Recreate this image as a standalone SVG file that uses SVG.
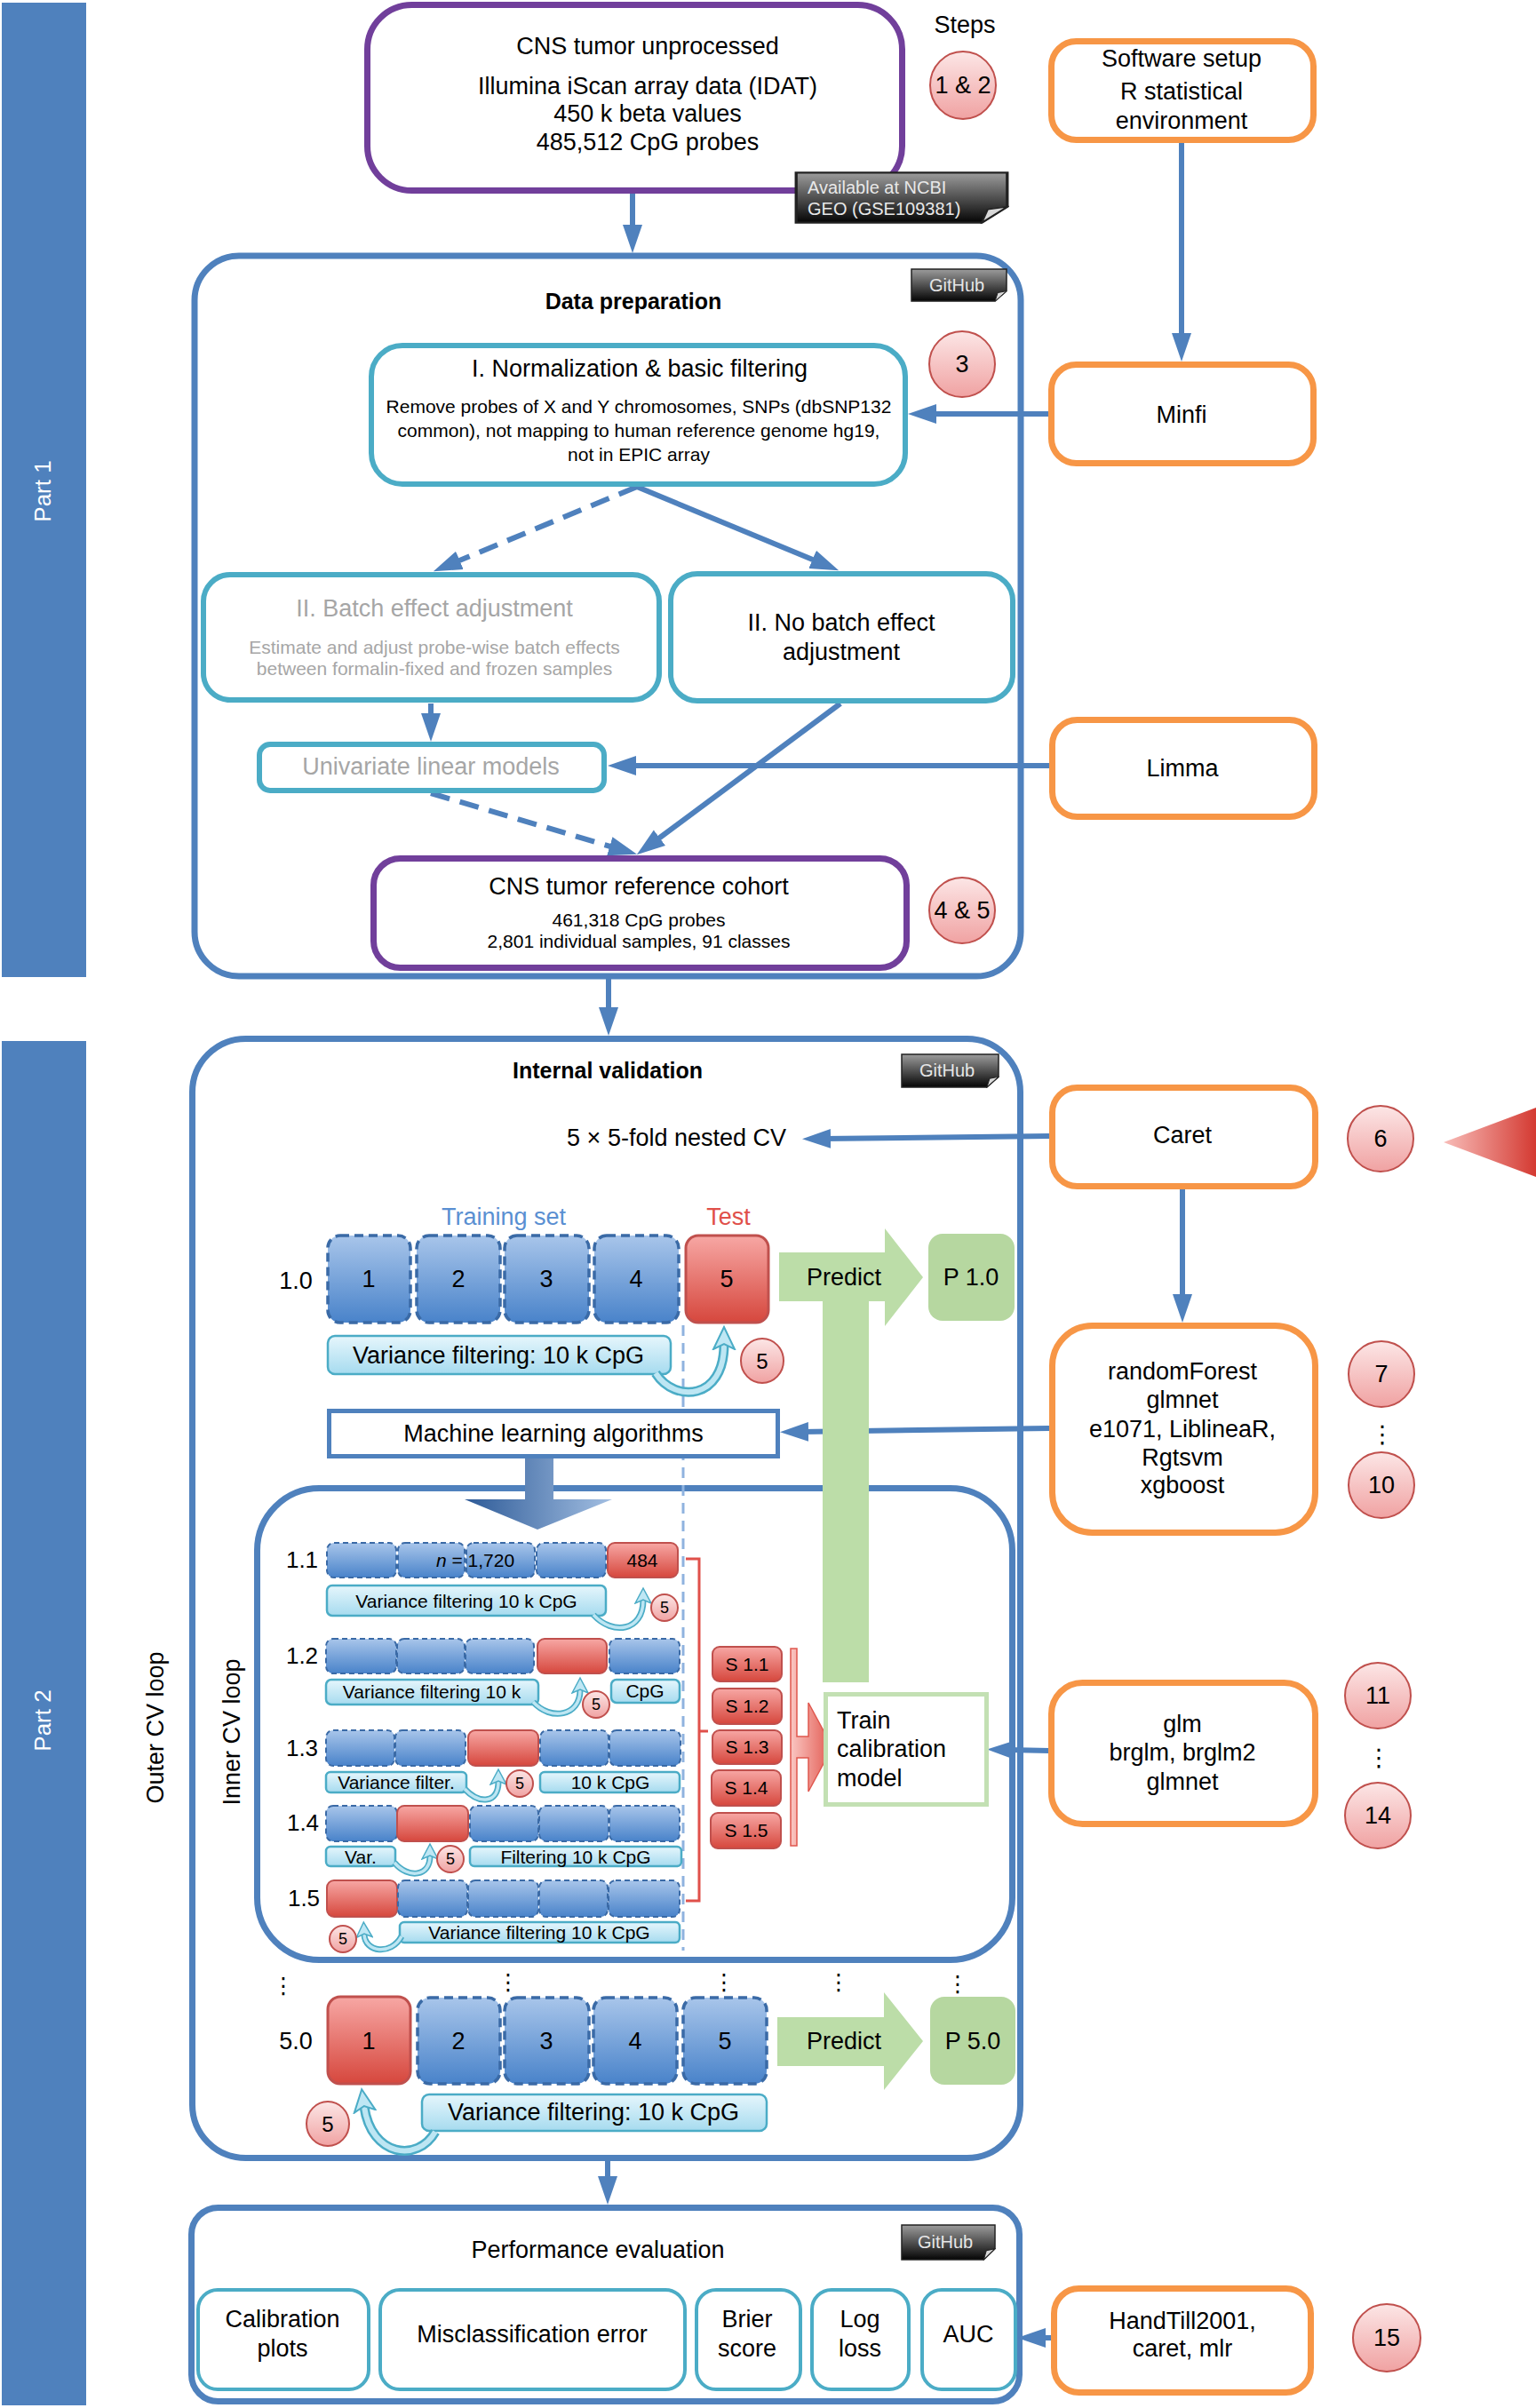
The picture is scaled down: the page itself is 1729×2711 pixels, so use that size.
<svg xmlns="http://www.w3.org/2000/svg" width="1729" height="2711" viewBox="0 0 1729 2711">
<defs>
<style>
text{font-family:"Liberation Sans",Arial,Helvetica,sans-serif;fill:#000}
.m{text-anchor:middle}
.e{text-anchor:end}
.b{font-weight:bold}
.g{fill:#A6A6A6}
.w{fill:#fff}
.s27{font-size:27px}
.s26{font-size:26px}
.s25{font-size:25px}
.s21{font-size:21px}
.s20{font-size:20px}
.s18{font-size:18px}
.orange{fill:#fff;stroke:#F79646;stroke-width:7}
.teal{fill:#fff;stroke:#4BACC6;stroke-width:6}
.cont{fill:#fff;stroke:#4F81BD;stroke-width:7}
.purple{fill:#fff;stroke:#713F9B;stroke-width:7}
.step{fill:url(#gPink);stroke:#C0504D;stroke-width:2}
.fb{fill:url(#gBlue);stroke:#3A6AA6;stroke-width:3.5;stroke-dasharray:10 6}
.fr{fill:url(#gRed);stroke:#C0504D;stroke-width:3}
.sb{fill:url(#gBlue);stroke:#3A6AA6;stroke-width:2;stroke-dasharray:6 4}
.sr{fill:url(#gRed);stroke:#C0504D;stroke-width:2}
.vb{fill:url(#gCyan);stroke:#4BACC6;stroke-width:2.5}
.green{fill:#BCDDA8}
.pbox{fill:#B6D7A0}
.ln{fill:none;stroke:#4F81BD;stroke-width:6}
.dash{stroke-dasharray:22 12}
.cvo{fill:none;stroke:#4BACC6}
.cvi{fill:none;stroke:#BDE6F3}
</style>
<linearGradient id="gPink" x1="0" y1="0" x2="0" y2="1"><stop offset="0" stop-color="#FCE6E6"/><stop offset="1" stop-color="#F0A2A2"/></linearGradient>
<linearGradient id="gBlue" x1="0" y1="0" x2="0" y2="1"><stop offset="0" stop-color="#A8C5EA"/><stop offset="1" stop-color="#4983CA"/></linearGradient>
<linearGradient id="gRed" x1="0" y1="0" x2="0" y2="1"><stop offset="0" stop-color="#F7A7A4"/><stop offset="1" stop-color="#D6473D"/></linearGradient>
<linearGradient id="gCyan" x1="0" y1="0" x2="0" y2="1"><stop offset="0" stop-color="#E6F6FC"/><stop offset="1" stop-color="#A6DBEF"/></linearGradient>
<linearGradient id="gGh" x1="0" y1="0" x2="0" y2="1"><stop offset="0" stop-color="#9C9C9C"/><stop offset="1" stop-color="#050505"/></linearGradient>
<linearGradient id="gMl" x1="0" y1="0" x2="1" y2="0"><stop offset="0" stop-color="#2D5A97"/><stop offset="1" stop-color="#A3BFE2"/></linearGradient>
<linearGradient id="gTri" x1="0" y1="0" x2="1" y2="0"><stop offset="0" stop-color="#F8BDB9"/><stop offset="1" stop-color="#D43A32"/></linearGradient>
<linearGradient id="gComb" x1="0" y1="0" x2="1" y2="0"><stop offset="0" stop-color="#FAC6C2"/><stop offset="1" stop-color="#E1574E"/></linearGradient>
<symbol id="badge" viewBox="0 0 110 40" preserveAspectRatio="none">
<path d="M1,1 H109 V27 L96,39 H1 Z" fill="url(#gGh)" stroke="#222" stroke-width="1.5"/>
<path d="M109,27 L96,39 L99,29 Z" fill="#D8D8D8" stroke="#222" stroke-width="1"/>
</symbol>
<marker id="ah" markerUnits="userSpaceOnUse" markerWidth="34" markerHeight="24" refX="8" refY="12" orient="auto"><path d="M0,1 L32,12 L0,23 Z" fill="#4F81BD"/></marker>
<marker id="cv" markerUnits="userSpaceOnUse" markerWidth="28" markerHeight="28" refX="6" refY="14" orient="auto"><path d="M1,2 L26,14 L1,26 L7,14 Z" fill="#BFE7F4" stroke="#4BACC6" stroke-width="2"/></marker>
<marker id="cvs" markerUnits="userSpaceOnUse" markerWidth="20" markerHeight="20" refX="4" refY="10" orient="auto"><path d="M1,1 L18,10 L1,19 L5,10 Z" fill="#BFE7F4" stroke="#4BACC6" stroke-width="1.5"/></marker>
</defs>
<rect width="1729" height="2711" fill="#fff"/>

<g id="part-bars">
<rect x="2" y="3" width="95" height="1097" fill="#4F81BD"/>
<text class="w s26 m" transform="rotate(-90 48 553)" x="48" y="562">Part 1</text>
<rect x="2" y="1172" width="95" height="1536" fill="#4F81BD"/>
<text class="w s26 m" transform="rotate(-90 48 1937)" x="48" y="1946">Part 2</text>
</g>

<!-- containers -->
<g id="data-preparation">
<rect class="cont" x="219" y="288" width="930" height="811" rx="50"/>
<text class="s25 m b" x="713" y="348">Data preparation</text>
<use href="#badge" x="1025" y="302" width="109" height="38"/>
<text class="s20 m" x="1077" y="328" fill="#E6E6E6" style="fill:#E6E6E6">GitHub</text>
</g>
<g id="internal-validation">
<rect class="cont" x="216.5" y="1169.5" width="932" height="1260" rx="60"/>
<text class="s25 m b" x="684" y="1214">Internal validation</text>
<use href="#badge" x="1014" y="1186" width="111" height="39"/>
<text class="s20 m" x="1066" y="1212" style="fill:#E6E6E6">GitHub</text>
<text class="s27 m" transform="rotate(-90 175 1945)" x="175" y="1954">Outer CV loop</text>
</g>
<g id="inner-cv-loop">
<rect x="289.5" y="1675.5" width="850" height="531" rx="70" fill="none" stroke="#4F81BD" stroke-width="7"/>
<text class="s27 m" transform="rotate(-90 261 1950)" x="261" y="1959">Inner CV loop</text>
</g>
<g id="performance-evaluation">
<rect class="cont" x="215.5" y="2485.5" width="932" height="218" rx="30"/>
<text class="s27 m" x="673" y="2542">Performance evaluation</text>
<use href="#badge" x="1014" y="2504" width="107" height="41"/>
<text class="s20 m" x="1064" y="2531" style="fill:#E6E6E6">GitHub</text>
</g>

<line x1="769" y1="1492" x2="769" y2="2196" stroke="#8FB3DF" stroke-width="3" stroke-dasharray="12 8"/>

<!-- connectors -->
<g id="connectors">
<path class="ln" d="M712,218 V261" marker-end="url(#ah)"/>
<path class="ln" d="M1330,161 V383" marker-end="url(#ah)"/>
<path class="ln" d="M1180,466 H1046" marker-end="url(#ah)"/>
<path class="ln dash" d="M717,548 L510,634" marker-end="url(#ah)"/>
<path class="ln" d="M717,548 L922,633" marker-end="url(#ah)"/>
<path class="ln" d="M485,792 V811" marker-end="url(#ah)"/>
<path class="ln" d="M1181,862 H708" marker-end="url(#ah)"/>
<path class="ln dash" d="M485,893 L694,955" marker-end="url(#ah)"/>
<path class="ln" d="M946,792 L736,948" marker-end="url(#ah)"/>
<path class="ln" d="M685,1102 V1142" marker-end="url(#ah)"/>
<path class="ln" d="M1181,1279 L927,1282" marker-end="url(#ah)"/>
<path class="ln" d="M1331,1339 V1465" marker-end="url(#ah)"/>
<path class="ln" d="M1181,1608 L902,1612" marker-end="url(#ah)"/>
<path class="ln" d="M1181,1971 L1135,1970" marker-end="url(#ah)"/>
<path class="ln" d="M684,2432 V2458" marker-end="url(#ah)"/>
<path class="ln" d="M1183,2632 H1169" marker-end="url(#ah)"/>
</g>

<!-- Part 1 nodes -->
<g id="raw-data">
<rect x="413.5" y="5.5" width="602" height="209" rx="50" fill="#fff" stroke="#713F9B" stroke-width="7"/>
<text class="s27 m" x="729" y="61">CNS tumor unprocessed</text>
<text class="s27 m" x="729" y="106">Illumina iScan array data (IDAT)</text>
<text class="s27 m" x="729" y="137">450 k beta values</text>
<text class="s27 m" x="729" y="169">485,512 CpG probes</text>
</g>
<g id="ncbi-note">
<use href="#badge" x="894" y="193" width="242" height="59"/>
<text class="s20" x="909" y="218" style="fill:#E8E8E8">Available at NCBI</text>
<text class="s20" x="909" y="242" style="fill:#E8E8E8">GEO (GSE109381)</text>
</g>
<g id="steps-label"><text class="s27 m" x="1086" y="37">Steps</text></g>
<g id="step-1-2"><ellipse class="step" cx="1084" cy="96" rx="37" ry="38"/><text class="s27 m" x="1084" y="105">1 &amp; 2</text></g>
<g id="software-setup">
<rect class="orange" x="1183.5" y="46.5" width="295" height="111" rx="28"/>
<text class="s27 m" x="1330" y="75">Software setup</text>
<text class="s27 m" x="1330" y="112">R statistical</text>
<text class="s27 m" x="1330" y="145">environment</text>
</g>
<g id="minfi"><rect class="orange" x="1183.5" y="410.5" width="295" height="111" rx="28"/><text class="s27 m" x="1330" y="476">Minfi</text></g>
<g id="normalization">
<rect class="teal" x="418" y="389" width="601" height="156" rx="35"/>
<text class="s27 m" x="720" y="424">I. Normalization &amp; basic filtering</text>
<text class="s21 m" x="719" y="465">Remove probes of X and Y chromosomes, SNPs (dbSNP132</text>
<text class="s21 m" x="719" y="492">common), not mapping to human reference genome hg19,</text>
<text class="s21 m" x="719" y="519">not in EPIC array</text>
</g>
<g id="step-3"><ellipse class="step" cx="1083" cy="410" rx="37" ry="37"/><text class="s27 m" x="1083" y="419">3</text></g>
<g id="batch-adjustment">
<rect class="teal" x="229" y="647" width="513" height="141" rx="30"/>
<text class="s27 m g" x="489" y="694">II. Batch effect adjustment</text>
<text class="s21 m g" x="489" y="736">Estimate and adjust probe-wise batch effects</text>
<text class="s21 m g" x="489" y="760">between formalin-fixed and frozen samples</text>
</g>
<g id="no-batch-adjustment">
<rect class="teal" x="755" y="646" width="385" height="143" rx="30"/>
<text class="s27 m" x="947" y="710">II. No batch effect</text>
<text class="s27 m" x="947" y="743">adjustment</text>
</g>
<g id="univariate">
<rect class="teal" x="292" y="838" width="388" height="52" rx="12"/>
<text class="s27 m g" x="485" y="872">Univariate linear models</text>
</g>
<g id="limma"><rect class="orange" x="1184.5" y="810.5" width="295" height="109" rx="28"/><text class="s27 m" x="1331" y="874">Limma</text></g>
<g id="reference-cohort">
<rect class="purple" x="420.5" y="966.5" width="600" height="123" rx="30"/>
<text class="s27 m" x="719" y="1007">CNS tumor reference cohort</text>
<text class="s21 m" x="719" y="1043">461,318 CpG probes</text>
<text class="s21 m" x="719" y="1067">2,801 individual samples, 91 classes</text>
</g>
<g id="step-4-5"><ellipse class="step" cx="1083" cy="1025" rx="37" ry="37"/><text class="s27 m" x="1083" y="1034">4 &amp; 5</text></g>

<!-- Part 2 -->
<g id="nested-cv-label"><text class="s27 e" x="885" y="1290">5 × 5-fold nested CV</text></g>
<g id="caret"><rect class="orange" x="1184.5" y="1224.5" width="296" height="111" rx="28"/><text class="s27 m" x="1331" y="1287">Caret</text></g>
<g id="step-6"><ellipse class="step" cx="1554" cy="1282" rx="37" ry="37"/><text class="s27 m" x="1554" y="1291">6</text></g>
<g id="red-pointer"><polygon points="1625,1286 1729,1247 1729,1325" fill="url(#gTri)"/></g>

<g id="predict-train-arrow">
<polygon class="green" points="877,1410 996,1410 996,1383 1039,1438 996,1493 996,1465 978,1465 978,1894 926,1894 926,1465 877,1465"/>
<text class="s27 m" x="950" y="1447">Predict</text>
</g>
<g id="outer-fold-1">
<text class="s27 m" x="333" y="1451">1.0</text>
<text class="s27 m" x="567" y="1379" style="fill:#5A8FD2">Training set</text>
<text class="s27 m" x="820" y="1379" style="fill:#E0504A">Test</text>
<rect class="fb" x="369" y="1391" width="93" height="98" rx="14"/>
<rect class="fb" x="469" y="1391" width="94" height="98" rx="14"/>
<rect class="fb" x="568" y="1391" width="95" height="98" rx="14"/>
<rect class="fb" x="669" y="1391" width="95" height="98" rx="14"/>
<rect class="fr" x="772" y="1391" width="93" height="98" rx="14"/>
<text class="s27 m" x="415" y="1449">1</text>
<text class="s27 m" x="516" y="1449">2</text>
<text class="s27 m" x="615" y="1449">3</text>
<text class="s27 m" x="716" y="1449">4</text>
<text class="s27 m" x="818" y="1449">5</text>
<rect class="vb" x="369" y="1504" width="386" height="43" rx="8"/>
<text class="s27 m" x="561" y="1535">Variance filtering: 10 k CpG</text>
<path class="cvo" stroke-width="11" d="M738,1546 C760,1580 815,1576 815,1514"/>
<path class="cvi" stroke-width="6" d="M738,1546 C760,1580 815,1576 815,1514" marker-end="url(#cv)"/>
<ellipse class="step" cx="858" cy="1532" rx="24" ry="25"/><text class="m" style="font-size:24px" x="858" y="1541">5</text>
</g>
<g id="p-1-0"><rect class="pbox" x="1045" y="1389" width="97" height="98" rx="16"/><text class="s27 m" x="1093" y="1447">P 1.0</text></g>

<g id="randomforest">
<rect class="orange" x="1184.5" y="1492.5" width="296" height="233" rx="45"/>
<text class="s27 m" x="1331" y="1553">randomForest</text>
<text class="s27 m" x="1331" y="1585">glmnet</text>
<text class="s27 m" x="1331" y="1618">e1071, LiblineaR,</text>
<text class="s27 m" x="1331" y="1650">Rgtsvm</text>
<text class="s27 m" x="1331" y="1681">xgboost</text>
</g>
<g id="step-7-10">
<ellipse class="step" cx="1555" cy="1547" rx="37" ry="37"/><text class="s27 m" x="1555" y="1556">7</text>
<text class="s27 m" x="1556" y="1624" style="font-family:'DejaVu Sans',sans-serif">⋮</text>
<ellipse class="step" cx="1555" cy="1672" rx="37" ry="37"/><text class="s27 m" x="1555" y="1681">10</text>
</g>
<g id="ml-algorithms">
<rect x="370.5" y="1588.5" width="505" height="51" fill="#fff" stroke="#4F81BD" stroke-width="5"/>
<text class="s27 m" x="623" y="1623">Machine learning algorithms</text>
</g>
<g id="ml-down-arrow"><polygon points="591,1642 623,1642 623,1688 689,1688 605,1722 523,1688 591,1688" fill="url(#gMl)"/></g>

<g id="inner-fold-1-1">
<text class="s26 m" x="340" y="1765">1.1</text>
<rect class="sb" x="368" y="1737" width="78" height="39" rx="8"/>
<rect class="sb" x="448" y="1737" width="75" height="39" rx="8"/>
<rect class="sb" x="525" y="1737" width="77" height="39" rx="8"/>
<rect class="sb" x="604" y="1737" width="78" height="39" rx="8"/>
<rect class="sr" x="684" y="1737" width="79" height="39" rx="8"/>
<text class="s21 m" x="535" y="1764"><tspan font-style="italic">n</tspan> = 1,720</text>
<text class="s21 m" x="723" y="1764">484</text>
<rect class="vb" x="368" y="1785" width="314" height="34" rx="6"/>
<text class="s21 m" x="525" y="1810">Variance filtering 10 k CpG</text>
<path class="cvo" stroke-width="7" d="M668,1818 C690,1842 724,1836 724,1802"/>
<path class="cvi" stroke-width="3.5" d="M668,1818 C690,1842 724,1836 724,1802" marker-end="url(#cvs)"/>
<circle class="step" cx="748" cy="1810" r="15"/><text class="s18 m" x="748" y="1816">5</text>
</g>
<g id="inner-fold-1-2">
<text class="s26 m" x="340" y="1873">1.2</text>
<rect class="sb" x="367" y="1845" width="79" height="39" rx="8"/>
<rect class="sb" x="447" y="1845" width="76" height="39" rx="8"/>
<rect class="sb" x="524" y="1845" width="77" height="39" rx="8"/>
<rect class="sr" x="605" y="1845" width="78" height="39" rx="8"/>
<rect class="sb" x="686" y="1845" width="79" height="39" rx="8"/>
<rect class="vb" x="367" y="1891" width="239" height="28" rx="6"/>
<text class="s21 m" x="486" y="1912">Variance filtering 10 k</text>
<rect class="vb" x="688" y="1891" width="77" height="26" rx="6"/>
<text class="s21 m" x="726" y="1911">CpG</text>
<path class="cvo" stroke-width="7" d="M600,1916 C620,1938 653,1932 653,1903"/>
<path class="cvi" stroke-width="3.5" d="M600,1916 C620,1938 653,1932 653,1903" marker-end="url(#cvs)"/>
<circle class="step" cx="671" cy="1919" r="15"/><text class="s18 m" x="671" y="1925">5</text>
</g>
<g id="inner-fold-1-3">
<text class="s26 m" x="340" y="1977">1.3</text>
<rect class="sb" x="367" y="1948" width="77" height="40" rx="8"/>
<rect class="sb" x="445" y="1948" width="79" height="40" rx="8"/>
<rect class="sr" x="527" y="1948" width="79" height="40" rx="8"/>
<rect class="sb" x="608" y="1948" width="77" height="40" rx="8"/>
<rect class="sb" x="686" y="1948" width="80" height="40" rx="8"/>
<rect class="vb" x="367" y="1995" width="158" height="23" rx="5"/>
<text class="s21 m" x="446" y="2014">Variance filter.</text>
<rect class="vb" x="608" y="1995" width="157" height="23" rx="5"/>
<text class="s21 m" x="687" y="2014">10 k CpG</text>
<path class="cvo" stroke-width="7" d="M523,2014 C540,2032 561,2030 561,2006"/>
<path class="cvi" stroke-width="3.5" d="M523,2014 C540,2032 561,2030 561,2006" marker-end="url(#cvs)"/>
<circle class="step" cx="585" cy="2008" r="15"/><text class="s18 m" x="585" y="2014">5</text>
</g>
<g id="inner-fold-1-4">
<text class="s26 m" x="341" y="2061">1.4</text>
<rect class="sb" x="367" y="2033" width="80" height="40" rx="8"/>
<rect class="sr" x="447" y="2033" width="80" height="40" rx="8"/>
<rect class="sb" x="529" y="2033" width="77" height="40" rx="8"/>
<rect class="sb" x="607" y="2033" width="78" height="40" rx="8"/>
<rect class="sb" x="686" y="2033" width="79" height="40" rx="8"/>
<rect class="vb" x="367" y="2079" width="78" height="22" rx="5"/>
<text class="s21 m" x="406" y="2098">Var.</text>
<rect class="vb" x="529" y="2079" width="238" height="22" rx="5"/>
<text class="s21 m" x="648" y="2098">Filtering 10 k CpG</text>
<path class="cvo" stroke-width="7" d="M444,2097 C460,2116 484,2112 484,2090"/>
<path class="cvi" stroke-width="3.5" d="M444,2097 C460,2116 484,2112 484,2090" marker-end="url(#cvs)"/>
<circle class="step" cx="507" cy="2093" r="15"/><text class="s18 m" x="507" y="2099">5</text>
</g>
<g id="inner-fold-1-5">
<text class="s26 m" x="342" y="2146">1.5</text>
<rect class="sr" x="368" y="2117" width="79" height="41" rx="8"/>
<rect class="sb" x="448" y="2117" width="78" height="41" rx="8"/>
<rect class="sb" x="527" y="2117" width="79" height="41" rx="8"/>
<rect class="sb" x="607" y="2117" width="77" height="41" rx="8"/>
<rect class="sb" x="685" y="2117" width="80" height="41" rx="8"/>
<rect class="vb" x="450" y="2164" width="315" height="23" rx="5"/>
<text class="s21 m" x="607" y="2183">Variance filtering 10 k CpG</text>
<path class="cvo" stroke-width="7" d="M452,2180 C440,2202 411,2198 410,2178"/>
<path class="cvi" stroke-width="3.5" d="M452,2180 C440,2202 411,2198 410,2178" marker-end="url(#cvs)"/>
<circle class="step" cx="386" cy="2183" r="15"/><text class="s18 m" x="386" y="2189">5</text>
</g>

<g id="inner-bracket">
<path d="M772,1755 H787 V2140 H772 M787,1949 H797" fill="none" stroke="#E0504A" stroke-width="3"/>
</g>
<g id="inner-scores">
<rect class="sr" x="802" y="1854" width="78" height="39" rx="8"/><text class="s21 m" x="841" y="1881">S 1.1</text>
<rect class="sr" x="802" y="1901" width="78" height="40" rx="8"/><text class="s21 m" x="841" y="1928">S 1.2</text>
<rect class="sr" x="802" y="1948" width="78" height="38" rx="8"/><text class="s21 m" x="841" y="1974">S 1.3</text>
<rect class="sr" x="801" y="1993" width="78" height="40" rx="8"/><text class="s21 m" x="840" y="2020">S 1.4</text>
<rect class="sr" x="800" y="2041" width="79" height="40" rx="8"/><text class="s21 m" x="840" y="2068">S 1.5</text>
</g>
<g id="score-comb-arrow">
<path d="M890,1856 H897 V1955 H910 V1917 L937,1967 L910,2017 V1979 H897 V2078 H890 Z" fill="url(#gComb)" stroke="#E0574E" stroke-width="1.5"/>
</g>
<g id="train-calibration">
<rect x="929.5" y="1907.5" width="181" height="124" fill="#fff" stroke="#C3E0B3" stroke-width="5"/>
<text class="s27" x="942" y="1946">Train</text>
<text class="s27" x="942" y="1978">calibration</text>
<text class="s27" x="942" y="2011">model</text>
</g>
<g id="glm">
<rect class="orange" x="1183.5" y="1894.5" width="297" height="159" rx="35"/>
<text class="s27 m" x="1331" y="1950">glm</text>
<text class="s27 m" x="1331" y="1982">brglm, brglm2</text>
<text class="s27 m" x="1331" y="2015">glmnet</text>
</g>
<g id="step-11-14">
<ellipse class="step" cx="1551" cy="1909" rx="37" ry="37"/><text class="s27 m" x="1551" y="1918">11</text>
<text class="s27 m" x="1552" y="1988" style="font-family:'DejaVu Sans',sans-serif">⋮</text>
<ellipse class="step" cx="1551" cy="2044" rx="37" ry="37"/><text class="s27 m" x="1551" y="2053">14</text>
</g>

<g id="outer-dots" style="font-family:'DejaVu Sans',sans-serif">
<text class="s25 m" x="319" y="2244" style="font-family:'DejaVu Sans',sans-serif">⋮</text>
<text class="s25 m" x="572" y="2240" style="font-family:'DejaVu Sans',sans-serif">⋮</text>
<text class="s25 m" x="815" y="2240" style="font-family:'DejaVu Sans',sans-serif">⋮</text>
<text class="s25 m" x="944" y="2240" style="font-family:'DejaVu Sans',sans-serif">⋮</text>
<text class="s25 m" x="1078" y="2242" style="font-family:'DejaVu Sans',sans-serif">⋮</text>
</g>
<g id="outer-fold-5">
<text class="s27 m" x="333" y="2307">5.0</text>
<rect class="fr" x="369" y="2248" width="93" height="98" rx="14"/>
<rect class="fb" x="470" y="2249" width="93" height="97" rx="14"/>
<rect class="fb" x="568" y="2249" width="95" height="97" rx="14"/>
<rect class="fb" x="668" y="2249" width="94" height="97" rx="14"/>
<rect class="fb" x="769" y="2249" width="94" height="97" rx="14"/>
<text class="s27 m" x="415" y="2307">1</text>
<text class="s27 m" x="516" y="2307">2</text>
<text class="s27 m" x="615" y="2307">3</text>
<text class="s27 m" x="715" y="2307">4</text>
<text class="s27 m" x="816" y="2307">5</text>
<polygon class="green" points="875,2271 995,2271 995,2243 1039,2298 995,2353 995,2326 875,2326"/>
<text class="s27 m" x="950" y="2307">Predict</text>
<rect class="vb" x="475" y="2358" width="388" height="41" rx="8"/>
<text class="s27 m" x="668" y="2387">Variance filtering: 10 k CpG</text>
<path class="cvo" stroke-width="11" d="M490,2400 C470,2435 418,2428 410,2372"/>
<path class="cvi" stroke-width="6" d="M490,2400 C470,2435 418,2428 410,2372" marker-end="url(#cv)"/>
<ellipse class="step" cx="369" cy="2391" rx="24" ry="25"/><text class="m" style="font-size:24px" x="369" y="2400">5</text>
</g>
<g id="p-5-0"><rect class="pbox" x="1047" y="2248" width="96" height="99" rx="16"/><text class="s27 m" x="1095" y="2307">P 5.0</text></g>

<g id="calibration-plots"><rect class="teal" style="stroke-width:4" x="223" y="2578" width="192" height="112" rx="22"/><text class="s27 m" x="318" y="2620">Calibration</text><text class="s27 m" x="318" y="2653">plots</text></g>
<g id="misclassification"><rect class="teal" style="stroke-width:4" x="428" y="2578" width="343" height="112" rx="22"/><text class="s27 m" x="599" y="2637">Misclassification error</text></g>
<g id="brier"><rect class="teal" style="stroke-width:4" x="784" y="2578" width="117" height="112" rx="22"/><text class="s27 m" x="841" y="2620">Brier</text><text class="s27 m" x="841" y="2653">score</text></g>
<g id="logloss"><rect class="teal" style="stroke-width:4" x="914" y="2578" width="109" height="112" rx="22"/><text class="s27 m" x="968" y="2620">Log</text><text class="s27 m" x="968" y="2653">loss</text></g>
<g id="auc"><rect class="teal" style="stroke-width:4" x="1038" y="2578" width="105" height="112" rx="22"/><text class="s27 m" x="1090" y="2637">AUC</text></g>
<g id="handtill">
<rect class="orange" x="1186.5" y="2576.5" width="289" height="117" rx="28"/>
<text class="s27 m" x="1331" y="2622">HandTill2001,</text>
<text class="s27 m" x="1331" y="2653">caret, mlr</text>
</g>
<g id="step-15"><ellipse class="step" cx="1561" cy="2632" rx="38" ry="38"/><text class="s27 m" x="1561" y="2641">15</text></g>
</svg>
